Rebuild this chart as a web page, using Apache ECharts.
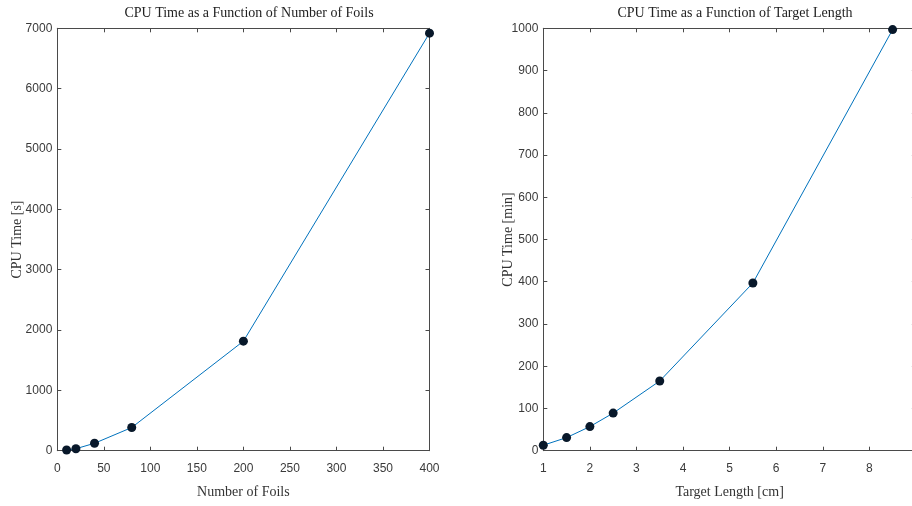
<!DOCTYPE html>
<html>
<head>
<meta charset="utf-8">
<script src="https://cdn.jsdelivr.net/npm/echarts@6/dist/echarts.min.js"></script>
<style>
html,body{margin:0;padding:0;background:#fff;overflow:hidden;width:912px;height:506px;}
#c{width:930px;height:506px;}
</style>
</head>
<body>
<div id="c"></div>
<script>
// Left panel data
const foils = [10, 20, 40, 80, 200, 400];
const foilTime = [12, 33, 123, 384, 1815, 6920];
// Right panel data
const lengths = [1, 1.5, 2, 2.5, 3.5, 5.5, 8.5];
const lengthTime = [13, 31, 57, 89, 165, 397, 997];

const titles = ['CPU Time as a Function of Number of Foils', 'CPU Time as a Function of Target Length'];
const xNames = ['Number of Foils', 'Target Length [cm]'];
const yNames = ['CPU Time [s]', 'CPU Time [min]'];

const chart = echarts.init(document.getElementById('c'), null, {renderer: 'canvas'});

const axisCol = '#4a4a4a';
const labelFont = {color: '#3a3a3a', fontFamily: "'Liberation Sans',Arial,sans-serif", fontSize: 12, formatter: v => String(v)};
const serif = "'Liberation Serif','DejaVu Serif',serif";

function mainX(gi, min, max, interval, name) {
  return {
    type: 'value', gridIndex: gi, position: 'bottom', min: min, max: max, interval: interval,
    name: name, nameLocation: 'middle', nameGap: 35,
    nameTextStyle: {fontFamily: serif, fontSize: 14, color: '#333'},
    axisLine: {show: true, onZero: false, lineStyle: {color: axisCol, width: 1}},
    axisTick: {show: true, inside: true, length: 4, lineStyle: {color: axisCol}},
    axisLabel: Object.assign({margin: 12}, labelFont),
    splitLine: {show: false}
  };
}
function boxX(gi, min, max, interval) {
  return {
    type: 'value', gridIndex: gi, position: 'top', min: min, max: max, interval: interval,
    axisLine: {show: true, onZero: false, lineStyle: {color: axisCol, width: 1}},
    axisTick: {show: true, inside: true, length: 4, lineStyle: {color: axisCol}},
    axisLabel: {show: false}, splitLine: {show: false}
  };
}
function mainY(gi, min, max, interval, name, gap) {
  return {
    type: 'value', gridIndex: gi, position: 'left', min: min, max: max, interval: interval,
    name: name, nameLocation: 'middle', nameGap: gap, nameMoveOverlap: false,
    nameTextStyle: {fontFamily: serif, fontSize: 14, color: '#333'},
    axisLine: {show: true, onZero: false, lineStyle: {color: axisCol, width: 1}},
    axisTick: {show: true, inside: true, length: 4, lineStyle: {color: axisCol}},
    axisLabel: Object.assign({margin: 5}, labelFont),
    splitLine: {show: false}
  };
}
function boxY(gi, min, max, interval) {
  return {
    type: 'value', gridIndex: gi, position: 'right', min: min, max: max, interval: interval,
    axisLine: {show: true, onZero: false, lineStyle: {color: axisCol, width: 1}},
    axisTick: {show: true, inside: true, length: 4, lineStyle: {color: axisCol}},
    axisLabel: {show: false}, splitLine: {show: false}
  };
}

function pairs(xs, ys) { return xs.map((x, i) => [x, ys[i]]); }

const seriesStyle = {
  type: 'line', symbol: 'circle', symbolSize: 9,
  lineStyle: {color: '#0072BD', width: 1},
  itemStyle: {color: '#08182a', borderWidth: 0},
  silent: true, animation: false
};

chart.setOption({
  animation: false,
  backgroundColor: '#ffffff',
  title: [
    {text: titles[0], left: 244, top: 1, textAlign: 'center', textStyle: {fontFamily: serif, fontSize: 14, fontWeight: 'normal', color: '#222'}},
    {text: titles[1], left: 730, top: 1, textAlign: 'center', textStyle: {fontFamily: serif, fontSize: 14, fontWeight: 'normal', color: '#222'}}
  ],
  grid: [
    {left: 57.3, top: 28.3, width: 372.2, height: 422.4, containLabel: false},
    {left: 543.3, top: 28.3, width: 372.6, height: 422.4, containLabel: false}
  ],
  xAxis: [
    mainX(0, 0, 400, 50, xNames[0]),
    boxX(0, 0, 400, 50),
    mainX(1, 1, 9, 1, xNames[1]),
    boxX(1, 1, 9, 1)
  ],
  yAxis: [
    mainY(0, 0, 7000, 1000, yNames[0], 33),
    boxY(0, 0, 7000, 1000),
    mainY(1, 0, 1000, 100, yNames[1], 28),
    boxY(1, 0, 1000, 100)
  ],
  series: [
    Object.assign({}, seriesStyle, {xAxisIndex: 0, yAxisIndex: 0, data: pairs(foils, foilTime)}),
    Object.assign({}, seriesStyle, {xAxisIndex: 2, yAxisIndex: 2, data: pairs(lengths, lengthTime)})
  ]
});
</script>
</body>
</html>
